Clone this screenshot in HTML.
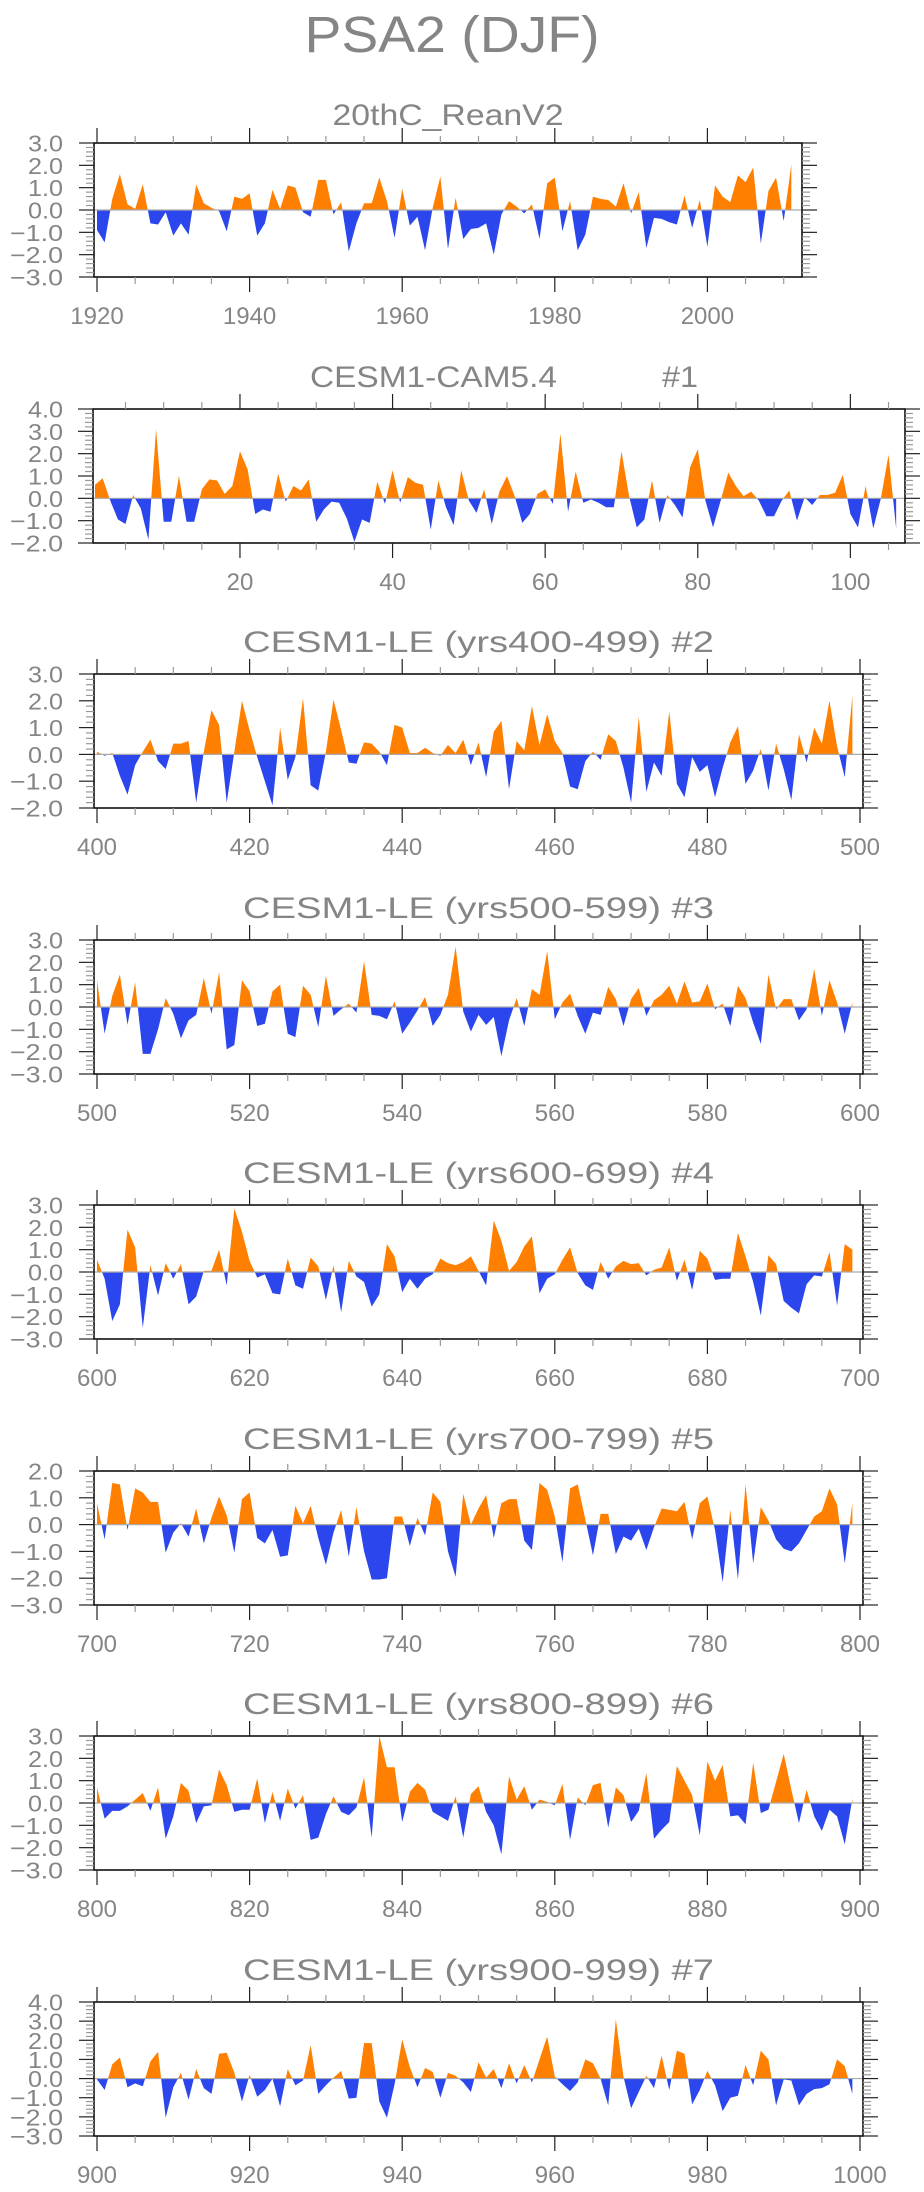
<!DOCTYPE html>
<html><head><meta charset="utf-8"><title>PSA2 (DJF)</title>
<style>
html,body{margin:0;padding:0;background:#fff;}
svg{display:block;font-family:"Liberation Sans",sans-serif;}
text{fill:#858585;}
</style></head>
<body>
<svg id="chart" width="924" height="2192" viewBox="0 0 924 2192" xmlns="http://www.w3.org/2000/svg">
<text x="452" y="52" font-size="51" text-anchor="middle" textLength="295" lengthAdjust="spacingAndGlyphs">PSA2 (DJF)</text>
</svg>
<script>
// ---- data ----
const startYears = [1920, 1, 400, 500, 600, 700, 800, 900];
const panelTitles = ["20thC_ReanV2", "CESM1-CAM5.4", "CESM1-LE (yrs400-499) #2", "CESM1-LE (yrs500-599) #3", "CESM1-LE (yrs600-699) #4", "CESM1-LE (yrs700-799) #5", "CESM1-LE (yrs800-899) #6", "CESM1-LE (yrs900-999) #7"];
const yMaxes = [3, 4, 3, 3, 3, 2, 3, 4];
const yMins = [-3, -2, -2, -3, -3, -3, -3, -3];
const xTickLabels = [[1920,1940,1960,1980,2000],[20,40,60,80,100],[400,420,440,460,480,500],[500,520,540,560,580,600],[600,620,640,660,680,700],[700,720,740,760,780,800],[800,820,840,860,880,900],[900,920,940,960,980,1000]];
const series1 = [-0.9,-1.45,0.5,1.6,0.25,0.05,1.15,-0.6,-0.65,-0.1,-1.15,-0.6,-1.1,1.15,0.3,0.1,-0.05,-0.95,0.6,0.5,0.75,-1.15,-0.6,0.9,0.05,1.1,1.0,-0.1,-0.3,1.35,1.35,-0.2,0.35,-1.85,-0.6,0.3,0.3,1.45,0.4,-1.25,0.95,-0.7,-0.3,-1.8,0.1,1.5,-1.75,0.55,-1.3,-0.85,-0.8,-0.6,-2.0,-0.2,0.4,0.15,-0.15,0.25,-1.3,1.2,1.45,-0.95,0.4,-1.8,-1.1,0.6,0.5,0.45,0.15,1.2,-0.15,0.8,-1.7,-0.35,-0.4,-0.55,-0.65,0.65,-0.8,0.45,-1.65,1.1,0.6,0.35,1.55,1.25,1.9,-1.5,0.85,1.45,-0.5,2.05];
const series2 = [0.6,0.9,-0.1,-0.95,-1.15,0.15,-0.45,-1.85,3.1,-1.05,-1.05,1.0,-1.05,-1.05,0.4,0.85,0.8,0.2,0.55,2.1,1.3,-0.7,-0.5,-0.6,1.1,-0.15,0.55,0.35,0.85,-1.05,-0.5,-0.15,-0.2,-0.9,-1.95,-0.95,-1.1,0.75,-0.25,1.25,-0.2,0.95,0.7,0.6,-1.4,0.8,-0.4,-1.2,1.25,-0.1,-0.65,0.4,-1.15,0.3,1.0,0.1,-1.1,-0.7,0.2,0.4,-0.25,2.9,-0.6,1.2,-0.2,-0.05,-0.2,-0.4,-0.4,2.1,0.1,-1.3,-0.95,0.8,-1.1,0.15,-0.3,-0.85,1.4,2.2,-0.1,-1.3,-0.1,1.15,0.55,0.1,0.3,-0.1,-0.8,-0.8,-0.1,0.35,-1.0,0.05,-0.3,0.15,0.15,0.25,1.05,-0.7,-1.3,0.55,-1.35,0.0,1.95,-1.35];
const series3 = [0.1,-0.05,0.05,-0.8,-1.5,-0.4,0.1,0.55,-0.25,-0.55,0.4,0.4,0.5,-1.8,0.1,1.65,1.1,-1.8,0.1,2.0,0.9,-0.1,-1.0,-1.9,1.0,-0.95,-0.1,2.1,-1.15,-1.35,0.1,2.05,0.9,-0.3,-0.35,0.45,0.4,0.1,-0.4,1.1,1.0,0.05,0.05,0.25,0.05,-0.05,0.35,0.05,0.55,-0.4,0.45,-0.85,0.85,1.25,-1.3,0.5,0.15,1.8,0.35,1.5,0.5,0.05,-1.2,-1.3,-0.25,0.1,-0.2,0.75,0.5,-0.5,-1.8,1.4,-1.4,-0.3,-0.8,1.6,-1.1,-1.6,-0.1,-0.65,-0.4,-1.6,-0.5,0.45,1.05,-1.1,-0.6,0.2,-1.35,0.4,-0.55,-1.7,0.75,-0.3,1.0,0.4,2.0,0.3,-0.85,2.2];
const series4 = [1.2,-1.2,0.5,1.45,-0.8,1.1,-2.1,-2.1,-1.0,0.4,-0.3,-1.4,-0.6,-0.35,1.3,-0.3,1.55,-1.9,-1.7,1.2,0.7,-0.85,-0.75,0.7,1.0,-1.2,-1.35,0.95,0.55,-0.9,1.4,-0.4,-0.1,0.15,-0.25,2.05,-0.35,-0.4,-0.55,0.25,-1.2,-0.7,-0.15,0.45,-0.85,-0.35,0.55,2.7,-0.2,-1.1,-0.35,-0.8,-0.45,-2.2,-0.6,0.4,-0.85,0.8,0.55,2.5,-0.55,0.2,0.6,-0.4,-1.2,-0.25,-0.35,0.9,0.35,-0.85,0.35,0.85,-0.4,0.3,0.55,0.95,0.15,1.15,0.2,0.25,1.05,-0.1,0.15,-0.85,0.95,0.4,-0.7,-1.65,1.45,-0.1,0.35,0.35,-0.6,-0.1,1.7,-0.4,1.2,0.2,-1.2,0.2];
const series5 = [0.55,-0.3,-2.2,-1.45,1.9,1.1,-2.5,0.3,-1.05,0.4,-0.3,0.35,-1.45,-1.1,0.05,0.05,1.0,-0.6,2.85,1.8,0.5,-0.25,-0.1,-0.95,-1.0,0.6,-0.6,-0.75,0.65,0.25,-1.25,0.3,-1.8,0.5,-0.2,-0.45,-1.55,-1.0,1.25,0.7,-0.9,-0.3,-0.75,-0.3,-0.1,0.6,0.4,0.3,0.45,0.7,0.05,-0.6,2.3,1.4,0.05,0.45,1.15,1.6,-0.95,-0.3,-0.1,0.55,1.1,-0.05,-0.6,-0.8,0.45,-0.3,0.25,0.5,0.35,0.4,-0.15,0.1,0.2,1.1,-0.4,0.55,-0.8,0.95,0.6,-0.35,-0.3,-0.3,1.75,0.7,-0.45,-1.95,0.75,0.35,-1.3,-1.6,-1.85,-0.55,-0.15,-0.2,0.9,-1.5,1.25,1.0];
const series6 = [0.8,-0.55,1.55,1.5,-0.2,1.35,1.2,0.85,0.85,-1.05,-0.3,0.05,-0.45,0.6,-0.7,0.25,1.05,0.35,-1.05,0.95,1.2,-0.5,-0.7,-0.2,-1.2,-1.15,0.7,0.05,0.7,-0.5,-1.5,-0.3,0.55,-1.2,0.65,-1.0,-2.05,-2.05,-2.0,0.3,0.3,-0.8,0.25,-0.4,1.2,0.85,-1.0,-1.95,1.15,0.0,0.6,1.1,-0.5,0.8,0.95,0.95,-0.6,-0.95,1.55,1.3,0.3,-1.4,1.35,1.5,0.2,-1.15,0.4,0.4,-1.1,-0.45,-0.6,-0.15,-0.95,-0.1,0.6,0.55,0.5,0.85,-0.55,0.8,1.05,-0.2,-2.15,0.55,-2.05,1.5,-1.45,0.65,0.15,-0.55,-0.9,-1.0,-0.7,-0.2,0.3,0.5,1.35,0.75,-1.45,0.8];
const series7 = [0.7,-0.7,-0.35,-0.35,-0.15,0.15,0.45,-0.35,0.7,-1.6,-0.6,0.9,0.55,-0.9,-0.15,-0.1,1.5,0.8,-0.4,-0.3,-0.3,1.1,-0.9,0.5,-0.8,0.65,-0.25,0.35,-1.65,-1.55,-0.5,0.3,-0.4,-0.55,-0.2,1.15,-1.55,3.0,1.6,1.6,-0.85,0.5,0.9,0.6,-0.4,-0.6,-0.8,0.3,-1.55,0.4,0.75,-0.4,-1.0,-2.3,1.2,0.15,0.75,-0.3,0.15,0.05,-0.1,0.85,-1.65,0.25,-0.1,0.8,0.9,-1.1,0.7,0.35,-0.85,-0.35,1.35,-1.6,-1.2,-0.85,1.65,1.0,0.35,-1.45,1.85,1.0,1.7,-0.6,-0.55,-0.95,1.8,-0.45,-0.3,0.95,2.2,0.6,-0.9,0.6,-0.6,-1.25,-0.3,-0.6,-1.85,0.2];
const series8 = [-0.05,-0.6,0.75,1.1,-0.45,-0.25,-0.4,0.9,1.4,-2.05,-0.45,0.3,-1.1,0.5,-0.5,-0.8,1.3,1.35,0.3,-1.2,0.2,-0.95,-0.6,0.0,-1.45,0.5,-0.35,-0.1,1.75,-0.8,-0.35,0.05,0.4,-1.05,-1.0,1.85,1.85,-1.2,-2.05,-0.3,2.05,0.6,-0.45,0.55,0.35,-1.0,0.3,0.15,-0.2,-0.7,0.85,0.05,0.5,-0.5,0.8,-0.25,0.7,-0.2,1.0,2.2,0.1,-0.3,-0.65,-0.2,1.0,0.8,0.0,-1.4,3.1,0.1,-1.55,-0.7,0.15,-0.5,1.2,-0.6,1.45,1.3,-1.35,-0.6,0.4,-0.35,-1.7,-1.0,-0.9,0.7,-0.35,1.45,1.0,-1.4,-0.05,-0.1,-1.4,-0.8,-0.55,-0.5,-0.3,1.0,0.65,-0.8];
const allSeries = [series1, series2, series3, series4, series5, series6, series7, series8];

// ---- layout (not data) ----
const boxTops = [143, 409, 674, 940, 1205, 1471, 1736, 2002];
const boxLeft = [94, 93, 94, 94, 94, 94, 94, 94];
const boxRight = [802, 905, 863, 863, 863, 863, 863, 863];
const firstX = [97, 95, 97, 97, 97, 97, 97, 97];
const PXU = 7.63, BOXH = 134;
const ORANGE = "#ff8000", BLUE = "#2a46ec";
const NS = "http://www.w3.org/2000/svg";
const svg = document.getElementById("chart");

function mk(tag, attrs, parent) {
  const e = document.createElementNS(NS, tag);
  for (const k in attrs) e.setAttribute(k, attrs[k]);
  (parent || svg).appendChild(e);
  return e;
}
function fmt(v) { return (v < 0 ? "\u2212" : "") + Math.abs(v).toFixed(1); }

for (let p = 0; p < 8; p++) {
  const top = boxTops[p], bot = top + BOXH, L = boxLeft[p], R = boxRight[p];
  const ymax = yMaxes[p], ymin = yMins[p];
  const xs = v => firstX[p] + (v - startYears[p]) * PXU;
  const ys = v => top + (ymax - v) / (ymax - ymin) * BOXH;
  const g = mk("g", {});
  
  

  const cx = (L + R) / 2;
  if (p === 1) {
    const t1 = mk("text", {x: 310, y: top - 22, "font-size": 30, textLength: 247, lengthAdjust: "spacingAndGlyphs"}, g);
    t1.textContent = panelTitles[p];
    
    
    const t2 = mk("text", {x: 662, y: top - 22, "font-size": 30, textLength: 36, lengthAdjust: "spacingAndGlyphs"}, g);
    t2.textContent = "#1";
    
    
  } else {
    const tl = p === 0 ? 231 : 471;
    const t = mk("text", {x: cx, y: top - (p === 0 ? 18 : 22), "font-size": 30, "text-anchor": "middle", textLength: tl, lengthAdjust: "spacingAndGlyphs"}, g);
    t.textContent = panelTitles[p];
    
    
  }

  const vals = allSeries[p];
  const pts = [];
  for (let i = 0; i < vals.length; i++) {
    const x = startYears[p] + i, v = vals[i];
    if (i > 0) {
      const pv = vals[i - 1];
      if ((pv > 0 && v < 0) || (pv < 0 && v > 0)) {
        const f = pv / (pv - v);
        pts.push([x - 1 + f, 0]);
      }
    }
    pts.push([x, v]);
  }
  const x0 = pts[0][0], x1 = pts[pts.length - 1][0];
  function poly(clip) {
    let d = "M" + xs(x0).toFixed(2) + "," + ys(0).toFixed(2);
    for (const q of pts) d += "L" + xs(q[0]).toFixed(2) + "," + ys(clip(q[1])).toFixed(2);
    d += "L" + xs(x1).toFixed(2) + "," + ys(0).toFixed(2) + "Z";
    return d;
  }
  const pos = mk("path", {d: poly(v => Math.max(v, 0)), fill: ORANGE}, g);
  
  
  const neg = mk("path", {d: poly(v => Math.min(v, 0)), fill: BLUE}, g);
  
  
  const zl = mk("line", {x1: L, x2: R, y1: ys(0), y2: ys(0), stroke: "#aaa", "stroke-width": 1.2}, g);
  
  

  const box = mk("rect", {x: L, y: top, width: R - L, height: BOXH, fill: "none", stroke: "#111", "stroke-width": 1.6}, g);
  
  

  for (let k = Math.round(ymin * 5); k <= Math.round(ymax * 5); k++) {
    const v = k / 5, y = ys(v), major = (k % 5 === 0);
    const len = major ? 15 : 8, col = major ? "#222" : "#999";
    mk("line", {x1: L - len, x2: L, y1: y, y2: y, stroke: col, "stroke-width": 1.2}, g);
    mk("line", {x1: R, x2: R + len, y1: y, y2: y, stroke: col, "stroke-width": 1.2}, g);
    if (major) {
      const s = fmt(v);
      const t = mk("text", {x: 63, y: y + 8.5, "font-size": 23, "text-anchor": "end", textLength: s.length === 3 ? 35 : 53, lengthAdjust: "spacingAndGlyphs"}, g);
      t.textContent = s;
      
      
    }
  }
  const vL = startYears[p] + (L - firstX[p]) / PXU, vR = startYears[p] + (R - firstX[p]) / PXU;
  for (let v = Math.ceil(vL / 5) * 5; v <= vR + 0.01; v += 5) {
    const x = xs(v), major = (v % 20 === 0);
    const len = major ? 15 : 7, col = major ? "#222" : "#999";
    mk("line", {x1: x, x2: x, y1: top - len, y2: top, stroke: col, "stroke-width": 1.2}, g);
    mk("line", {x1: x, x2: x, y1: bot, y2: bot + len, stroke: col, "stroke-width": 1.2}, g);
  }
  for (const lab of xTickLabels[p]) {
    const t = mk("text", {x: xs(lab), y: bot + 47, "font-size": 24, "text-anchor": "middle"}, g);
    t.textContent = String(lab);
    
    
  }
}
</script>
</body></html>
